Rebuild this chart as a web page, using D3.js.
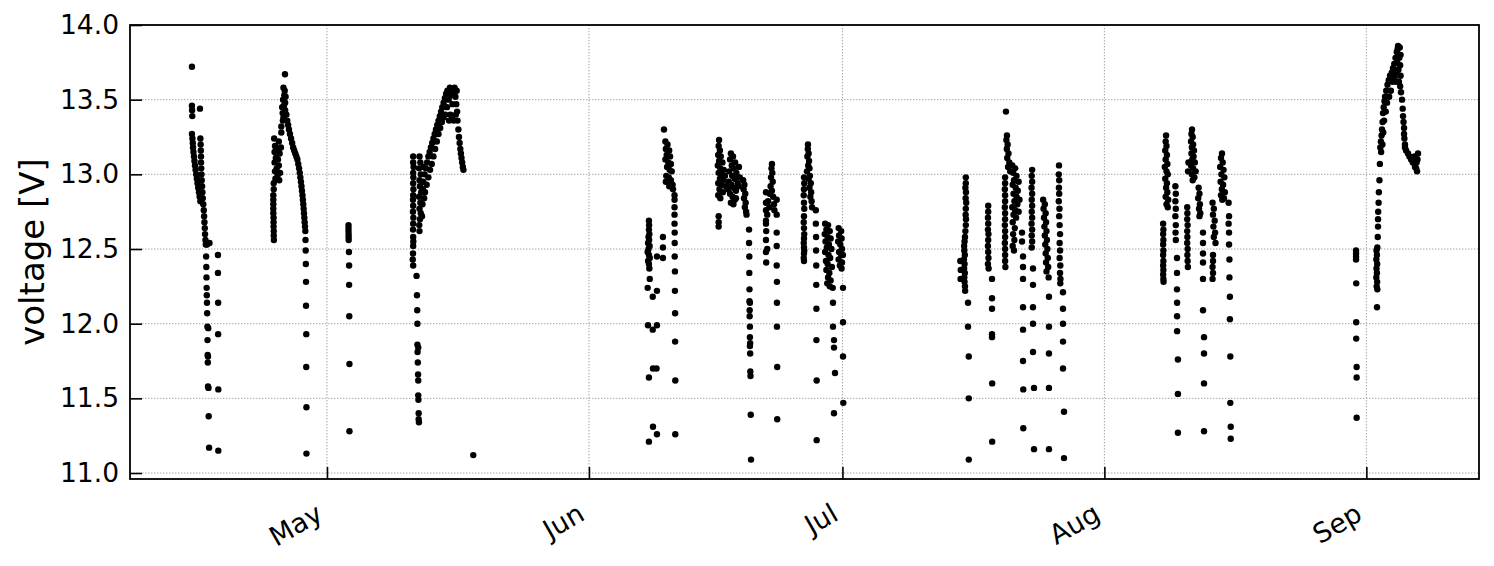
<!DOCTYPE html>
<html>
<head>
<meta charset="utf-8">
<script src="https://cdn.jsdelivr.net/npm/d3@7"></script>
<style>
  body { margin: 0; background: #fff; }
  #chart { width: 1494px; height: 566px; }
  text { font-family: "DejaVu Sans", sans-serif; fill: #000; }
</style>
</head>
<body>
<div id="chart"></div>
<script>
// samples are [day since 1 Apr, voltage]
const aprilA = [[14.02,13.72],[14.02,13.46],[14.04,13.43],[14.06,13.39],[14.97,13.44],
  [14.02,13.27],[14.08,13.24],[14.12,13.21],[14.15,13.18],[14.20,13.15],[14.26,13.12],[14.32,13.09],[14.38,13.06],
  [14.45,13.03],[14.52,13.00],[14.60,12.97],[14.68,12.94],[14.76,12.91],[14.85,12.88],[14.93,12.85],[15.02,12.82],
  [15.02,13.24],[15.05,13.20],[15.07,13.16],[15.09,13.12],[15.10,13.08],[15.12,13.04],[15.15,13.00],[15.18,12.96],
  [15.22,12.92],[15.26,12.88],[15.30,12.84],[15.36,12.80],[15.42,12.76],[15.46,12.72],[15.50,12.68],[15.54,12.64],
  [15.57,12.60],[15.62,12.56],[15.66,12.53],[15.80,12.53],[16.10,12.54],
  [15.70,12.45],[15.72,12.38],[15.74,12.31],[15.76,12.24],[15.78,12.19],[15.80,12.14],[15.82,12.07],[15.85,11.98],
  [15.95,11.97],[15.86,11.89],[15.88,11.79],[15.92,11.78],[15.90,11.74],[15.92,11.58],[15.98,11.57],[16.00,11.38],
  [16.05,11.17],
  [17.10,12.46],[17.10,12.34],[17.12,12.14],[17.12,11.93],[17.14,11.56],[17.14,11.15]];

const aprilB = [[23.75,13.24],[24.30,13.22],[23.85,13.19],[24.25,13.17],[23.80,13.15],[24.40,13.14],[23.95,13.11],
  [24.20,13.10],[23.80,13.08],[24.30,13.06],[24.05,13.04],[23.85,13.02],[24.45,13.01],[24.15,12.99],[23.90,12.97],
  [24.35,12.96],[23.70,12.94],[23.70,12.90],[23.65,12.86],[23.65,12.83],[23.65,12.80],[23.65,12.77],[23.65,12.74],
  [23.68,12.71],[23.68,12.68],[23.68,12.65],[23.70,12.62],[23.70,12.59],[23.72,12.56],
  [25.03,13.67],[24.85,13.58],[25.00,13.56],[24.95,13.53],[25.10,13.52],[24.80,13.50],[25.05,13.48],[24.90,13.46],
  [24.70,13.45],[25.05,13.43],[24.75,13.41],[24.85,13.38],[24.78,13.36],[24.60,13.32],[24.60,13.28],[24.55,13.18],
  [25.20,13.40],[25.30,13.36],[25.40,13.33],[25.50,13.30],[25.62,13.27],[25.75,13.24],[25.88,13.21],[26.00,13.18],
  [26.12,13.16],[26.25,13.14],[26.38,13.12],[26.50,13.10],[26.60,13.07],[26.70,13.04],[26.78,13.01],[26.85,12.98],
  [26.92,12.95],[26.98,12.92],[27.04,12.89],[27.10,12.86],[27.15,12.83],[27.20,12.80],[27.24,12.77],[27.28,12.74],
  [27.32,12.71],[27.36,12.68],[27.40,12.65],[27.44,12.62],
  [27.46,12.56],[27.48,12.49],[27.50,12.40],[27.52,12.28],[27.52,12.12],[27.55,11.93],[27.55,11.71],[27.57,11.44],
  [27.57,11.13]];

const mayC = [[32.55,12.66],[32.55,12.64],[32.55,12.62],[32.56,12.60],[32.56,12.58],[32.57,12.56],[32.60,12.48],
  [32.62,12.39],[32.62,12.26],[32.64,12.05],[32.66,11.73],[32.66,11.28]];

const mayD = [[40.20,13.12],[40.20,13.08],[40.25,13.05],[40.20,13.01],[40.22,12.98],[40.20,12.94],[40.23,12.90],
  [40.20,12.86],[40.18,12.83],[40.20,12.79],[40.18,12.75],[40.22,12.71],[40.20,12.67],[40.18,12.63],[40.20,12.58],
  [40.22,12.55],[40.20,12.52],[40.18,12.47],[40.15,12.43],[40.20,12.39],
  [40.95,13.12],[41.05,13.08],[40.90,13.04],[41.10,13.00],[40.95,12.96],[41.00,12.92],[41.15,12.88],[40.90,12.85],
  [41.05,12.81],[40.95,12.77],[41.10,12.74],[41.00,12.70],[40.92,12.66],[40.95,12.62],
  [41.40,12.95],[41.55,13.00],[41.70,13.04],[41.85,13.08],[42.00,13.12],[42.15,13.15],[42.30,13.18],[42.45,13.21],
  [42.60,13.24],[42.75,13.27],[42.90,13.30],[43.05,13.33],[43.20,13.36],[43.35,13.39],[43.50,13.42],[43.65,13.45],
  [43.80,13.48],[43.95,13.51],[44.10,13.54],[44.25,13.56],
  [41.60,12.88],[41.80,12.93],[42.00,12.98],[42.20,13.03],[42.40,13.07],[42.60,13.12],[42.80,13.17],[43.00,13.22],
  [43.20,13.27],[43.40,13.31],[43.60,13.35],[43.80,13.38],[44.00,13.40],
  [41.30,12.80],[41.50,12.84],[41.25,12.72],[41.45,13.05],[41.35,12.90],
  [44.20,13.45],[44.40,13.50],[44.55,13.58],[44.70,13.53],[44.85,13.47],[44.95,13.55],[45.10,13.58],[45.20,13.52],
  [45.30,13.47],[45.40,13.42],[44.60,13.40],[44.80,13.38],[45.00,13.36],[45.25,13.40],[45.35,13.56],[44.45,13.36],
  [45.45,13.36],[45.55,13.30],[45.62,13.25],[45.70,13.21],[45.78,13.17],[45.85,13.14],[45.92,13.11],[46.00,13.08],
  [46.08,13.05],[46.15,13.03],
  [40.60,12.32],[40.65,12.19],[40.68,12.09],[40.70,12.00],[40.70,11.86],[40.80,11.84],[40.72,11.81],[40.75,11.74],
  [40.78,11.66],[40.80,11.62],[40.80,11.52],[40.82,11.49],[40.85,11.40],[40.85,11.36],[40.88,11.34],
  [47.31,11.12]];

const juneE = [[68.10,12.69],[68.12,12.66],[68.10,12.63],[68.15,12.60],[68.05,12.58],[68.12,12.56],[68.00,12.54],
  [68.18,12.52],[68.05,12.50],[67.95,12.48],[68.10,12.46],[68.20,12.44],[68.00,12.42],[68.10,12.40],[68.15,12.37],
  [68.20,12.30],[67.95,12.24],[69.05,12.22],[68.55,12.18],[67.99,11.99],[69.05,11.99],[68.55,11.96],
  [68.10,11.64],[68.58,11.70],[69.00,11.70],[68.58,11.31],[69.05,11.26],[68.10,11.21],
  [69.76,12.58],[69.76,12.51],[69.76,12.44],[69.05,12.45],
  [69.88,13.30],[70.05,13.22],[70.30,13.20],[70.10,13.17],[70.50,13.16],[70.20,13.13],[70.60,13.12],[70.05,13.10],
  [70.40,13.08],[70.70,13.07],[70.25,13.05],[70.55,13.03],[70.80,13.02],[70.15,12.99],[70.45,12.98],[70.70,12.96],
  [70.10,12.95],[70.90,12.93],[70.50,12.92],[70.95,12.90],
  [71.13,12.86],[71.13,12.83],[71.13,12.78],[71.13,12.73],[71.13,12.67],[71.15,12.61],[71.15,12.54],[71.15,12.45],
  [71.18,12.35],[71.18,12.22],[71.20,12.07],[71.20,11.88],[71.22,11.62],[71.22,11.26]];

const juneF = [[76.40,13.23],[76.35,13.19],[76.50,13.16],[76.30,13.13],[76.60,13.12],[76.40,13.09],[76.80,13.08],
  [76.25,13.06],[76.55,13.04],[76.95,13.03],[76.35,13.01],[76.70,13.00],[77.10,12.99],[76.50,12.97],[76.90,12.96],
  [76.30,12.94],[76.65,12.93],[77.20,12.92],[76.45,12.90],[76.85,12.88],[76.30,12.86],[76.55,12.84],
  [76.35,12.72],[76.35,12.68],[76.35,12.65],
  [77.80,13.14],[78.05,13.12],[77.70,13.10],[78.30,13.08],[77.90,13.06],[78.15,13.04],[77.60,13.02],[78.45,13.01],
  [77.95,12.99],[78.25,12.97],[77.55,12.95],[78.60,12.94],[77.85,12.93],[78.10,12.91],[77.45,12.90],[78.40,12.89],
  [77.70,12.87],[78.00,12.85],[78.25,12.83],[77.80,12.81],[78.10,12.80],[78.40,12.84],[78.70,12.92],[78.85,12.98],
  [78.75,13.05],
  [79.25,12.96],[79.40,12.93],[79.30,12.90],[79.50,12.87],[79.35,12.84],[79.55,12.81],[79.45,12.78],[79.60,12.75],
  [79.65,12.73],
  [79.95,12.63],[79.95,12.54],[79.98,12.45],[79.98,12.34],[80.00,12.23],[80.00,12.15],[80.05,12.14],[80.02,12.09],
  [80.02,12.05],[80.05,11.98],[80.05,11.91],[80.08,11.87],[80.05,11.85],[80.08,11.80],[80.10,11.68],[80.12,11.65],
  [80.15,11.39],[80.18,11.09]];

const juneG = [[82.66,13.07],[82.60,13.04],[82.70,13.01],[82.55,12.98],[82.75,12.95],[82.50,12.92],[82.65,12.89],
  [82.40,12.87],[82.80,12.85],[82.20,12.82],[82.90,12.80],[82.35,12.78],[82.95,12.76],[82.10,12.73],
  [81.95,12.88],[81.95,12.81],[81.95,12.76],[81.95,12.69],[81.95,12.67],[81.98,12.62],[81.95,12.56],[82.10,12.50],
  [81.95,12.48],[81.98,12.41],
  [83.22,12.83],[83.22,12.73],[83.22,12.61],[83.22,12.52],[83.22,12.39],[83.25,12.28],[83.25,12.14],[83.25,11.98],
  [83.28,11.71],[83.28,11.36]];

const juneH = [[86.92,13.20],[86.90,13.17],[87.00,13.14],[86.85,13.12],[87.05,13.09],[86.95,13.06],[87.10,13.04],
  [86.80,13.02],[87.15,12.99],[87.00,12.97],[87.25,12.94],[87.10,12.91],[87.30,12.88],[87.20,12.85],[87.35,12.82],
  [87.40,12.78],
  [86.45,12.98],[86.48,12.94],[86.45,12.90],[86.42,12.86],[86.45,12.81],[86.48,12.77],[86.45,12.72],[86.42,12.68],
  [86.45,12.64],[86.48,12.60],[86.45,12.57],[86.42,12.54],[86.45,12.51],[86.48,12.49],[86.45,12.47],[86.42,12.44],
  [86.45,12.42],
  [87.85,12.76],[87.85,12.67],[87.88,12.58],[87.88,12.49],[87.90,12.39],[87.90,12.26],[87.92,12.10],[87.92,11.89],
  [87.95,11.62],[87.95,11.22]];

const juneI = [[88.95,12.67],[89.30,12.66],[89.10,12.63],[89.50,12.62],[88.90,12.60],[89.25,12.58],[89.60,12.57],
  [89.00,12.55],[89.40,12.53],[89.15,12.51],[89.70,12.50],[88.95,12.48],[89.35,12.46],[89.55,12.44],[89.05,12.42],
  [89.25,12.40],[89.75,12.38],[89.10,12.36],[89.45,12.34],[89.30,12.31],[89.60,12.29],[89.20,12.27],[89.50,12.25],
  [89.85,12.24],
  [90.55,12.64],[90.85,12.62],[90.60,12.59],[90.90,12.57],[90.50,12.55],[90.75,12.53],[90.95,12.50],[90.60,12.48],
  [90.85,12.46],[90.55,12.43],[90.95,12.41],[90.70,12.39],[90.90,12.37],[91.05,12.46],
  [89.88,12.14],[89.88,11.98],[90.00,11.89],[90.00,11.84],[90.12,11.67],[90.00,11.40],
  [91.07,12.24],[91.07,12.01],[91.07,11.78],[91.10,11.47]];

const julyJ = [[105.60,12.98],[105.60,12.94],[105.55,12.91],[105.62,12.88],[105.58,12.84],[105.65,12.81],
  [105.60,12.77],[105.58,12.73],[105.62,12.70],[105.60,12.66],[105.55,12.62],[105.50,12.58],[105.45,12.55],
  [105.40,12.52],[105.42,12.49],[105.48,12.46],[105.38,12.43],[105.45,12.40],[105.40,12.37],[105.48,12.34],
  [105.42,12.31],[105.45,12.28],[105.50,12.25],[105.52,12.22],[104.95,12.42],[105.00,12.36],[104.98,12.30],
  [105.86,12.14],[105.86,11.98],[105.95,11.78],[105.95,11.50],[105.95,11.09],
  [108.25,12.79],[108.25,12.75],[108.22,12.71],[108.25,12.67],[108.22,12.63],[108.28,12.60],[108.25,12.56],
  [108.22,12.52],[108.25,12.48],[108.28,12.44],[108.22,12.40],[108.30,12.37],
  [108.70,12.30],[108.70,12.17],[108.70,12.10],[108.70,11.93],[108.70,11.91],[108.72,11.60],[108.72,11.21],
  [110.35,13.42],[110.47,13.26],[110.40,13.23],[110.55,13.20],[110.45,13.17],[110.65,13.14],[110.50,13.11],
  [110.75,13.08],[110.60,13.05],[110.85,13.02],
  [110.25,12.98],[110.25,12.94],[110.22,12.90],[110.25,12.86],[110.25,12.82],[110.22,12.78],[110.25,12.74],
  [110.25,12.70],[110.22,12.66],[110.25,12.62],[110.25,12.58],[110.22,12.54],[110.25,12.50],[110.25,12.46],
  [110.25,12.42],[110.28,12.38],
  [111.10,13.06],[111.45,13.04],[111.20,13.01],[111.60,12.99],[111.30,12.96],[111.85,12.95],[111.15,12.93],
  [111.50,12.91],[111.75,12.89],[111.25,12.87],[111.60,12.85],[111.95,12.83],[111.35,12.82],[111.70,12.80],
  [111.10,12.78],[111.45,12.76],[111.85,12.75],[111.25,12.73],[111.55,12.71],[111.15,12.68],[111.40,12.64],
  [111.20,12.60],[111.35,12.56],[111.15,12.52],[111.30,12.49],
  [112.25,12.61],[112.25,12.55],[112.37,12.45],[112.37,12.38],[112.37,12.30],[112.37,12.11],[112.37,11.96],
  [112.37,11.75],[112.40,11.56],[112.40,11.30],
  [113.45,13.03],[113.40,12.99],[113.45,12.95],[113.38,12.91],[113.45,12.87],[113.40,12.83],[113.45,12.79],
  [113.40,12.75],[113.45,12.71],[113.38,12.67],[113.45,12.63],[113.40,12.59],[113.45,12.55],[113.40,12.51],
  [113.55,12.37],[113.55,12.26],[113.55,12.11],[113.55,12.00],[113.55,11.81],[113.67,11.57],[113.67,11.16],
  [114.75,12.83],[114.95,12.80],[114.80,12.77],[115.05,12.74],[114.85,12.71],[115.10,12.68],[114.90,12.65],
  [115.15,12.62],[114.95,12.59],[115.20,12.56],[115.00,12.53],[115.25,12.50],[115.05,12.47],[115.30,12.44],
  [115.10,12.41],[115.35,12.38],[115.15,12.35],[115.40,12.31],
  [115.44,12.18],[115.44,11.98],[115.44,11.80],[115.44,11.57],[115.44,11.16],
  [116.63,13.06],[116.60,13.00],[116.65,12.96],[116.62,12.91],[116.65,12.87],[116.60,12.82],[116.68,12.77],
  [116.65,12.72],[116.70,12.66],[116.75,12.60],[116.70,12.54],[116.75,12.49],[116.70,12.44],[116.78,12.39],
  [116.75,12.34],[116.80,12.30],[116.78,12.27],
  [117.10,12.21],[117.10,12.10],[117.10,12.00],[117.10,11.88],[117.10,11.70],[117.22,11.41],[117.22,11.10]];

const augustK = [[129.30,13.26],[129.25,13.22],[129.35,13.19],[129.20,13.16],[129.40,13.13],[129.25,13.10],
  [129.45,13.07],[129.15,13.05],[129.35,13.02],[129.50,13.00],[129.20,12.97],[129.40,12.94],[129.30,12.91],
  [129.45,12.88],[129.25,12.85],[129.55,12.83],[129.35,12.80],[129.50,12.78],
  [128.95,12.67],[128.98,12.63],[128.95,12.60],[128.98,12.56],[128.95,12.53],[128.98,12.49],[128.95,12.46],
  [128.98,12.42],[128.95,12.39],[128.98,12.36],[128.95,12.33],[128.98,12.30],[129.00,12.28],
  [130.40,12.92],[130.45,12.87],[130.40,12.82],[130.45,12.77],[130.40,12.72],[130.45,12.66],[130.42,12.61],
  [130.45,12.56],[130.59,12.44],[130.59,12.34],[130.59,12.23],[130.60,12.14],[130.60,12.05],[130.60,11.95],
  [130.70,11.76],[130.70,11.53],[130.70,11.27],
  [132.37,13.30],[132.30,13.27],[132.45,13.25],[132.25,13.22],[132.50,13.20],[132.35,13.18],[132.60,13.16],
  [132.30,13.14],[132.55,13.12],[132.40,13.10],[132.70,13.08],[132.25,13.06],[132.50,13.04],[132.80,13.02],
  [132.35,13.00],[132.65,12.98],[132.45,12.96],[131.95,13.08],[131.90,13.02],
  [131.80,12.78],[131.82,12.74],[131.80,12.70],[131.85,12.66],[131.80,12.62],[131.82,12.58],[131.80,12.54],
  [131.85,12.50],[131.82,12.46],[131.85,12.42],[131.88,12.38],
  [133.15,12.91],[133.25,12.87],[133.10,12.84],[133.30,12.80],[133.20,12.77],[133.35,12.74],[133.25,12.72],
  [133.67,12.61],[133.67,12.54],[133.67,12.47],[133.67,12.41],[133.67,12.30],[133.67,12.09],[133.79,11.91],
  [133.79,11.80],[133.79,11.60],[133.79,11.28],
  [134.80,12.81],[134.95,12.77],[134.85,12.73],[135.05,12.69],[134.90,12.65],[135.10,12.61],[134.95,12.58],
  [135.15,12.54],[134.85,12.46],[134.85,12.42],[134.80,12.38],[134.85,12.34],[134.80,12.30],
  [135.92,13.14],[135.80,13.11],[136.00,13.08],[135.70,13.05],[136.10,13.03],[135.85,13.00],[136.20,12.98],
  [135.75,12.95],[136.05,12.93],[135.90,12.90],[136.25,12.88],[135.80,12.86],[136.15,12.84],[135.95,12.83],
  [136.70,12.81],[136.75,12.72],[136.70,12.67],[136.75,12.61],[136.75,12.53],[136.80,12.43],[136.80,12.31],
  [136.85,12.18],[136.85,12.03],[136.90,11.78],[136.90,11.47],[136.95,11.31],[136.95,11.23]];

const septL = [[151.78,12.49],[151.78,12.47],[151.78,12.45],[151.78,12.43],[151.80,12.27],[151.80,12.01],
  [151.80,11.90],[151.85,11.71],[151.85,11.64],[151.85,11.37]];

const septM = [[154.20,12.49],[154.25,12.46],[154.18,12.43],[154.28,12.40],[154.20,12.37],[154.25,12.34],
  [154.18,12.31],[154.28,12.28],[154.22,12.25],[154.30,12.23],[154.26,12.11],
  [154.30,12.51],[154.35,12.58],[154.38,12.65],[154.38,12.70],[154.40,12.75],[154.45,12.81],[154.48,12.88],
  [154.55,12.96],[154.60,13.07],
  [154.65,13.18],[154.72,13.22],[154.80,13.26],[154.85,13.30],[154.92,13.35],[154.97,13.41],[155.05,13.45],
  [155.15,13.49],[155.21,13.52],[155.35,13.56],[155.50,13.60],[155.65,13.63],[155.80,13.66],[156.00,13.68],
  [156.15,13.71],[156.30,13.74],[156.45,13.78],[156.60,13.82],[156.75,13.86],
  [154.75,13.15],[154.90,13.20],[155.00,13.28],[155.10,13.36],[155.30,13.42],[155.45,13.48],[155.70,13.52],
  [155.90,13.56],
  [156.10,13.62],[156.35,13.65],[156.55,13.68],[156.80,13.70],[157.00,13.73],[156.40,13.70],[156.65,13.75],
  [156.90,13.78],[156.50,13.62],[156.85,13.62],[157.05,13.66],[156.70,13.84],[156.95,13.85],[157.05,13.80],
  [157.00,13.59],[157.10,13.55],[157.22,13.50],[157.30,13.44],[157.34,13.39],[157.40,13.35],[157.46,13.31],
  [157.46,13.27],[157.50,13.24],[157.57,13.20],[157.57,13.18],[157.70,13.16],[157.93,13.14],[158.10,13.12],
  [158.30,13.10],[158.50,13.08],[158.76,13.05],[158.90,13.04],[159.00,13.02],[159.11,13.14],[159.05,13.10],
  [158.95,13.08],[158.70,13.12]];

const bursts = [aprilA, aprilB, mayC, mayD, juneE, juneF, juneG, juneH, juneI, julyJ, augustK, septL, septM];

const dayRange = [6.69, 166.33];
const voltRange = [10.96, 14.0];
const voltTicks = [11.0, 11.5, 12.0, 12.5, 13.0, 13.5, 14.0];

const startDate = Date.UTC(2021, 3, 1);
const toDate = d => new Date(startDate + d * 864e5);

class VoltageScatter {
    constructor({container, width, height, margin, data}){
        this.container = container;
        this.width = width;
        this.height = height;
        this.margin = margin;
        this.data = data;
        this.init();
    }
    init(){
        this.createSVG();
        this.createScales();
        this.createGrid();
        this.createPoints();
        this.createFrame();
        this.createAxes();
        this.createLabel();
    }
    createSVG(){
        this.svg = d3.select(this.container).append("svg")
            .attr("width", this.width).attr("height", this.height);
    }
    createScales(){
        const m = this.margin;
        this.x = d3.scaleUtc().domain(dayRange.map(toDate)).range([m.left, this.width - m.right]);
        this.y = d3.scaleLinear().domain(voltRange).range([this.height - m.bottom, m.top]);
        this.months = d3.utcMonth.range(toDate(dayRange[0]), toDate(dayRange[1]));
    }
    createGrid(){
        const {x, y, margin: m} = this;
        const g = this.svg.append("g").attr("class", "grid")
            .attr("stroke", "#999").attr("stroke-width", 0.9).attr("stroke-dasharray", "1.4,1.6");
        g.selectAll(".gy").data(voltTicks).join("line").attr("class", "gy")
            .attr("x1", m.left).attr("x2", this.width - m.right)
            .attr("y1", d => y(d)).attr("y2", d => y(d));
        g.selectAll(".gx").data(this.months).join("line").attr("class", "gx")
            .attr("x1", d => x(d)).attr("x2", d => x(d))
            .attr("y1", m.top).attr("y2", this.height - m.bottom);
    }
    createPoints(){
        const {x, y} = this;
        const pts = this.data.flat();
        this.svg.append("g").selectAll("circle").data(pts).join("circle")
            .attr("cx", d => x(toDate(d[0])))
            .attr("cy", d => y(d[1]))
            .attr("r", 3.2)
            .attr("fill", "#000");
    }
    createFrame(){
        const m = this.margin;
        this.svg.append("rect")
            .attr("x", m.left).attr("y", m.top)
            .attr("width", this.width - m.left - m.right)
            .attr("height", this.height - m.top - m.bottom)
            .attr("fill", "none").attr("stroke", "#000").attr("stroke-width", 1.8);
    }
    createAxes(){
        const {x, y, margin: m} = this;
        const yAxis = d3.axisLeft(y).tickValues(voltTicks).tickFormat(d3.format(".1f"))
            .tickSizeInner(-12).tickSizeOuter(0).tickPadding(11);
        const yG = this.svg.append("g").attr("transform", `translate(${m.left},0)`).call(yAxis);
        yG.select(".domain").remove();
        yG.selectAll(".tick line").attr("stroke-width", 1.6);
        yG.selectAll(".tick text").attr("font-size", 26.5).attr("font-family", "DejaVu Sans");

        const xAxis = d3.axisBottom(x).tickValues(this.months).tickFormat(d3.utcFormat("%b"))
            .tickSizeInner(-12).tickSizeOuter(0);
        const xG = this.svg.append("g").attr("transform", `translate(0,${this.height - m.bottom})`).call(xAxis);
        xG.select(".domain").remove();
        xG.selectAll(".tick line").attr("stroke-width", 1.6);
        xG.selectAll(".tick text")
            .attr("font-size", 27).attr("font-family", "DejaVu Sans")
            .attr("text-anchor", "end")
            .attr("dy", null).attr("y", null)
            .attr("transform", "translate(-3,40) rotate(-30)");
    }
    createLabel(){
        const m = this.margin;
        const cy = (m.top + this.height - m.bottom) / 2;
        this.svg.append("text")
            .attr("transform", `translate(44,${cy}) rotate(-90)`)
            .attr("text-anchor", "middle")
            .attr("font-size", 34)
            .text("voltage [V]");
    }
}

new VoltageScatter({
    container: "#chart",
    width: 1494,
    height: 566,
    margin: {top: 25, right: 15, bottom: 87, left: 130},
    data: bursts
});
</script>
</body>
</html>
